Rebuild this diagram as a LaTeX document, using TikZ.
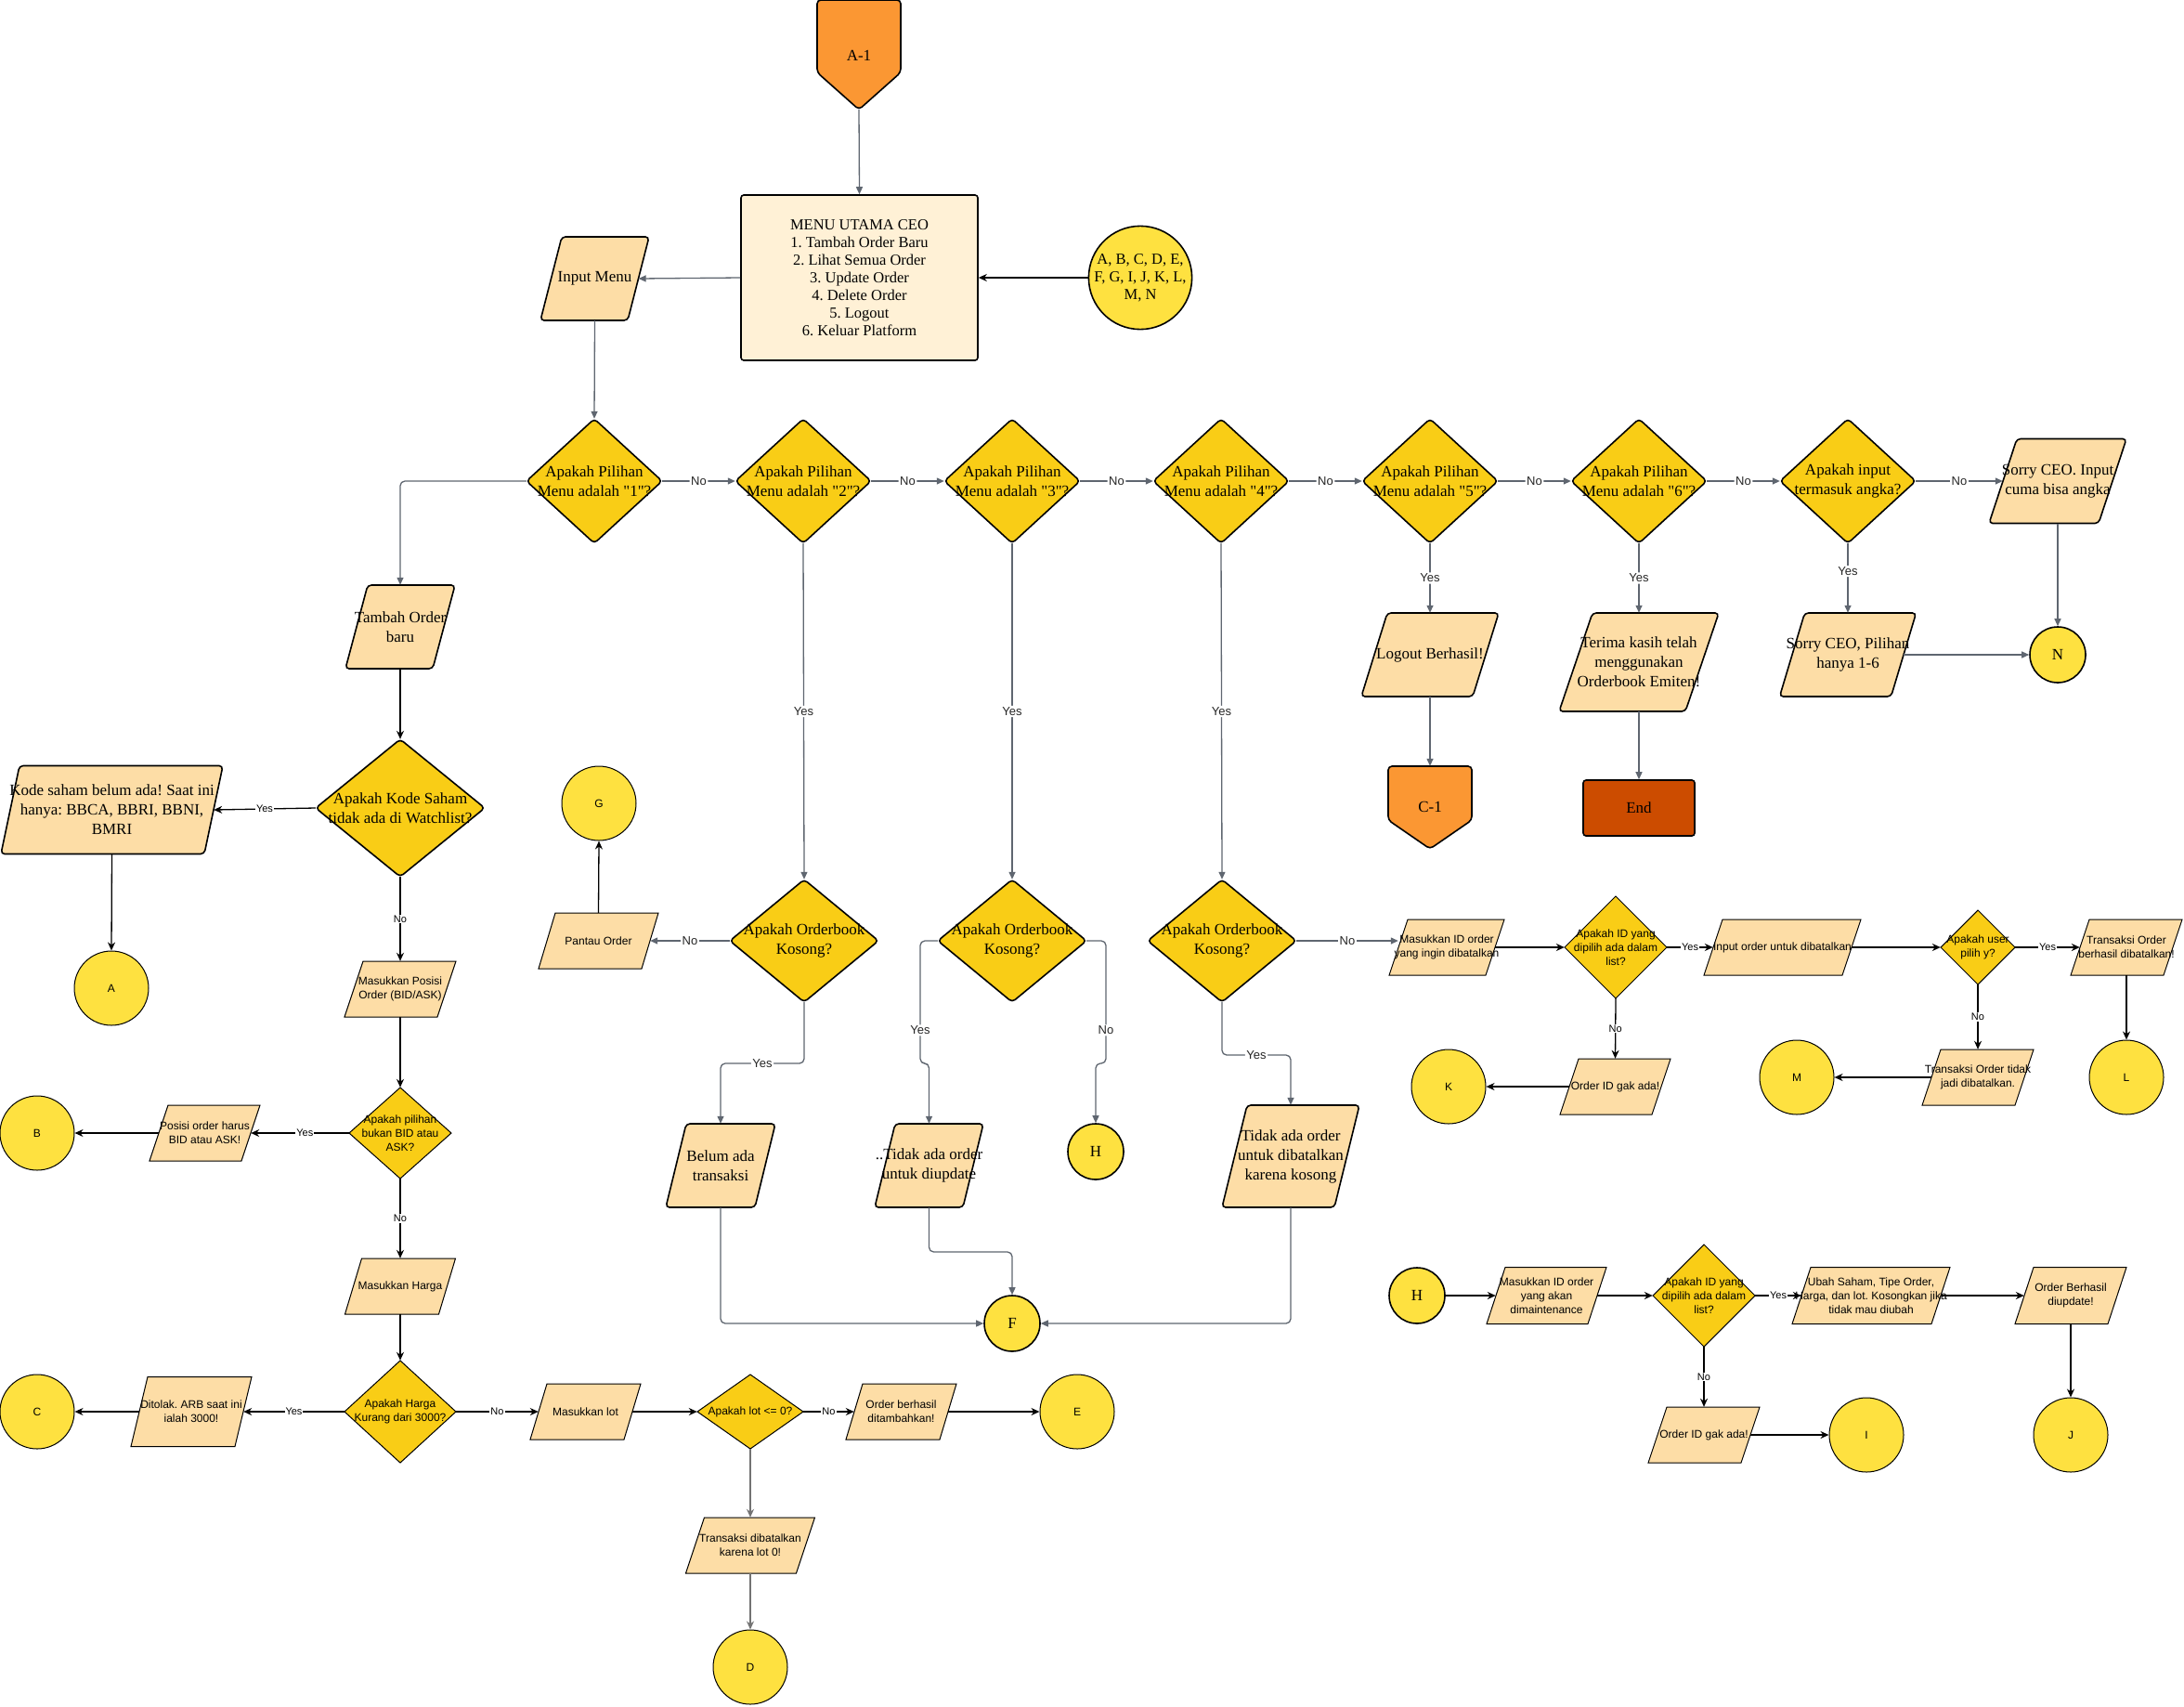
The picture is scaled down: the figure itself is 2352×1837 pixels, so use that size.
\documentclass[tikz,border=0pt]{standalone}
\usepackage{fontspec}
\setmainfont{Liberation Serif}
\setsansfont{Liberation Sans}
\usetikzlibrary{arrows.meta}
\frenchspacing
\definecolor{dyel}{HTML}{F9CD16}
\definecolor{peach}{HTML}{FDDDA6}
\definecolor{cyel}{HTML}{FEE140}
\definecolor{cream}{HTML}{FFF1D6}
\definecolor{orng}{HTML}{FB9733}
\definecolor{endc}{HTML}{CC4C00}
\definecolor{gline}{HTML}{5F6670}
\newcommand\q{\textquotedbl}
% parallelogram: name, cx, cy, W, H, slant, shape style, text style, text
\newcommand\pgm[9]{%
  \path[#7] ({#2-#4/2+#6},{#3-#5/2}) -- ({#2+#4/2},{#3-#5/2}) -- ({#2+#4/2-#6},{#3+#5/2}) -- ({#2-#4/2},{#3+#5/2}) -- cycle;
  \node[inner sep=0, minimum width={#4-#6}, minimum height={#5}] (#1) at (#2,#3) {};
  \node[txt, #8] (#1t) at (#2,#3) {#9};}
% diamond: name, cx, cy, half width, half height, shape style, text style, text
\newcommand\dmd[8]{%
  \path[#6] ({#2-#4},#3) -- (#2,{#3-#5}) -- ({#2+#4},#3) -- (#2,{#3+#5}) -- cycle;
  \node[inner sep=0, minimum width={2*#4}, minimum height={2*#5}] (#1) at (#2,#3) {};
  \node[txt, #7] (#1t) at (#2,#3) {#8};}
\tikzset{
  txt/.style={inner sep=0, align=center},
  ptop/.style={fill=peach, draw=black, line width=1.6pt, rounded corners=4pt},
  pbot/.style={fill=peach, draw=black, line width=1pt},
  dtop/.style={fill=dyel, draw=black, line width=1.6pt, rounded corners=4pt},
  dbot/.style={fill=dyel, draw=black, line width=1pt},
  fser/.style={font=\rmfamily\fontsize{17}{21}\selectfont},
  fsan/.style={font=\sffamily\fontsize{12}{15}\selectfont},
  ctop/.style={circle, fill=cyel, draw=black, line width=1.6pt, minimum size=60pt, inner sep=0, fser},
  cbot/.style={circle, fill=cyel, draw=black, line width=1pt, minimum size=80pt, inner sep=0, fsan},
  garr/.style={draw=gline, line width=1.3pt, rounded corners=5pt, -{Triangle[length=8pt,width=7pt]}},
  barr/.style={draw=black, line width=1.3pt, -{Stealth[length=9pt,width=8pt]}},
  glab/.style={fill=white, inner sep=1.5pt, font=\sffamily\fontsize{13}{15}\selectfont, text=black!85},
  blab/.style={fill=white, inner sep=1pt, font=\sffamily\fontsize{11}{13}\selectfont},
}
\begin{document}
\begin{tikzpicture}[x=1pt,y=-1pt]
\useasboundingbox (0,0) rectangle (2352,1837);
\fill[white] (0,0) rectangle (2352,1837);

% ---------- top part ----------
\path[fill=orng, draw=black, line width=1.6pt, rounded corners=4pt] (880,0) -- (970,0) -- (970,78) -- (925,118) -- (880,78) -- cycle;
\node[inner sep=0, minimum width=90pt, minimum height=118pt] (A1) at (925,59) {};
\node[fser] (A1t) at (925,60) {A-1};

\node[draw=black, fill=cream, rounded corners=3pt, line width=1.6pt, minimum width=255pt, minimum height=178pt, align=center, inner sep=0,
      font=\rmfamily\fontsize{16.5}{19}\selectfont] (Menu) at (925.5,299)
  {MENU UTAMA CEO\\1. Tambah Order Baru\\2. Lihat Semua Order\\3. Update Order\\4. Delete Order\\5. Logout\\6. Keluar Platform};

\node[ctop, minimum size=108pt, font=\rmfamily\fontsize{16.5}{19}\selectfont, align=center] (ABC) at (1228,299) {A, B, C, D, E,\\F, G, I, J, K, L,\\M, N};

\pgm{InputMenu}{640.5}{300}{117}{90}{23}{ptop}{fser}{Input Menu}

\dmd{D1}{640}{518}{73}{67}{dtop}{fser}{Apakah Pilihan\\Menu adalah \q1\q?}
\dmd{D2}{865}{518}{73}{67}{dtop}{fser}{Apakah Pilihan\\Menu adalah \q2\q?}
\dmd{D3}{1090}{518}{73}{67}{dtop}{fser}{Apakah Pilihan\\Menu adalah \q3\q?}
\dmd{D4}{1315}{518}{73}{67}{dtop}{fser}{Apakah Pilihan\\Menu adalah \q4\q?}
\dmd{D5}{1540}{518}{73}{67}{dtop}{fser}{Apakah Pilihan\\Menu adalah \q5\q?}
\dmd{D6}{1765}{518}{73}{67}{dtop}{fser}{Apakah Pilihan\\Menu adalah \q6\q?}
\dmd{D7}{1990}{518}{73}{67}{dtop}{fser}{Apakah input\\termasuk angka?}

\pgm{SorryIn}{2216}{518}{148}{91}{30}{ptop}{fser}{Sorry CEO. Input\\cuma bisa angka}
\pgm{Logout}{1540}{705}{148}{90}{28}{ptop}{fser}{Logout Berhasil!}
\pgm{Terima}{1765}{713}{172}{106}{36}{ptop}{fser}{Terima kasih telah\\menggunakan\\Orderbook Emiten!}
\pgm{SorryPil}{1990}{705}{147}{90}{27}{ptop}{fser}{Sorry CEO, Pilihan\\hanya 1-6}
\node[ctop] (N) at (2216,705) {N};

\path[fill=orng, draw=black, line width=1.6pt, rounded corners=4pt] (1495,825) -- (1585,825) -- (1585,883) -- (1540,914) -- (1495,883) -- cycle;
\node[inner sep=0, minimum width=90pt, minimum height=89pt] (C1) at (1540,869.5) {};
\node[fser] (C1t) at (1540,869) {C-1};

\node[draw=black, fill=endc, rounded corners=3pt, line width=1.6pt, minimum width=120pt, minimum height=60pt, inner sep=0, fser] (End) at (1765,870) {End};

\pgm{Tambah}{431}{675}{118}{90}{24}{ptop}{fser}{Tambah Order\\baru}
\dmd{KodeD}{431}{870}{91}{74}{dtop}{fser}{Apakah Kode Saham\\tidak ada di Watchlist?}
\pgm{KodeSaham}{120.5}{872}{239}{95}{20}{ptop}{fser}{Kode saham belum ada! Saat ini\\hanya: BBCA, BBRI, BBNI,\\BMRI}

\dmd{OB2}{866}{1013}{80}{66}{dtop}{fser}{Apakah Orderbook\\Kosong?}
\dmd{OB3}{1090}{1013}{80}{66}{dtop}{fser}{Apakah Orderbook\\Kosong?}
\dmd{OB4}{1316}{1013}{80}{66}{dtop}{fser}{Apakah Orderbook\\Kosong?}

\pgm{Belum}{776}{1255}{118}{90}{22}{ptop}{fser}{Belum ada\\transaksi}
\pgm{TidakUpd}{1000.5}{1255}{117}{90}{22}{ptop}{fser}{..Tidak ada order\\untuk diupdate}
\pgm{TidakBtl}{1390}{1245}{148}{110}{27}{ptop}{fser}{Tidak ada order\\untuk dibatalkan\\karena kosong}
\node[ctop] (H) at (1180,1240) {H};
\node[ctop] (F) at (1090,1425) {F};

% ---------- lower left ----------
\node[cbot] (A) at (120,1064) {A};
\node[cbot] (G) at (645,865) {G};
\pgm{Pantau}{644.5}{1013}{129}{60}{18}{pbot}{fsan}{Pantau Order}
\pgm{Posisi}{431}{1065}{120}{60}{20}{pbot}{fsan}{Masukkan Posisi\\Order (BID/ASK)}
\dmd{BIDD}{431}{1220}{55}{49}{dbot}{fsan}{Apakah pilihan\\bukan BID atau\\ASK?}
\pgm{PosHarus}{220.5}{1220}{119}{60}{20}{pbot}{fsan}{Posisi order harus\\BID atau ASK!}
\node[cbot] (B) at (40,1220) {B};
\pgm{Harga}{431}{1385}{119}{60}{18}{pbot}{fsan}{Masukkan Harga}
\dmd{HargaD}{431}{1520}{60}{55}{dbot}{fsan}{Apakah Harga\\Kurang dari 3000?}
\pgm{Ditolak}{206}{1520}{130}{75}{18}{pbot}{fsan}{Ditolak. ARB saat ini\\ialah 3000!}
\node[cbot] (C) at (40,1520) {C};
\pgm{Lot}{630.5}{1520}{119}{60}{18}{pbot}{fsan}{Masukkan lot}
\dmd{LotD}{808}{1520}{57}{40}{dbot}{fsan}{Apakah lot <= 0?}
\pgm{OrderOk}{970.5}{1520}{119}{60}{18}{pbot}{fsan}{Order berhasil\\ditambahkan!}
\node[cbot] (E) at (1160,1520) {E};
\pgm{Lot0}{808}{1664}{139}{60}{20}{pbot}{fsan}{Transaksi dibatalkan\\karena lot 0!}
\node[cbot] (D) at (808,1795) {D};

% ---------- lower right ----------
\pgm{IDBatal}{1558}{1020}{124}{60}{20}{pbot}{fsan}{Masukkan ID order\\yang ingin dibatalkan}
\dmd{IDD1}{1740}{1020}{55}{55}{dbot}{fsan}{Apakah ID yang\\dipilih ada dalam\\list?}
\pgm{InBatal}{1919.5}{1020}{169}{60}{20}{pbot}{fsan}{Input order untuk dibatalkan}
\dmd{UserD}{2130}{1020}{40}{40}{dbot}{fsan}{Apakah user\\pilih y?}
\pgm{TrOk}{2290}{1020}{120}{60}{20}{pbot}{fsan}{Transaksi Order\\berhasil dibatalkan!}
\node[cbot] (L) at (2290,1160) {L};
\pgm{TrNo}{2130}{1160}{120}{60}{20}{pbot}{fsan}{Transaksi Order tidak\\jadi dibatalkan.}
\node[cbot] (M) at (1935,1160) {M};
\pgm{NoIDa}{1739.5}{1170}{119}{60}{20}{pbot}{fsan}{Order ID gak ada!}
\node[cbot] (K) at (1560,1170) {K};

\node[ctop] (H2) at (1526,1395) {H};
\pgm{IDMaint}{1665.5}{1395}{129}{61}{20}{pbot}{fsan}{Masukkan ID order\\yang akan\\dimaintenance}
\dmd{IDD2}{1835}{1395}{55}{55}{dbot}{fsan}{Apakah ID yang\\dipilih ada dalam\\list?}
\pgm{Ubah}{2015}{1395}{170}{61}{20}{pbot}{fsan}{Ubah Saham, Tipe Order,\\Harga, dan lot. Kosongkan jika\\tidak mau diubah}
\pgm{UpdOk}{2230}{1395}{120}{61}{20}{pbot}{fsan}{Order Berhasil\\diupdate!}
\node[cbot] (J) at (2230,1545) {J};
\pgm{NoIDb}{1835}{1545}{120}{60}{20}{pbot}{fsan}{Order ID gak ada!}
\node[cbot] (I) at (2010,1545) {I};

% ---------- connectors: top (grey) ----------
\draw[garr] (A1.south) -- (Menu.north);
\draw[garr] (Menu.west) -- (InputMenu.east);
\draw[barr] (ABC.west) -- (Menu.east);
\draw[garr] (InputMenu.south) -- (D1.north);
\draw[garr] (D1.west) -| (Tambah.north);
\draw[garr] (D1.east) -- node[glab]{No} (D2.west);
\draw[garr] (D2.east) -- node[glab]{No} (D3.west);
\draw[garr] (D3.east) -- node[glab]{No} (D4.west);
\draw[garr] (D4.east) -- node[glab]{No} (D5.west);
\draw[garr] (D5.east) -- node[glab]{No} (D6.west);
\draw[garr] (D6.east) -- node[glab]{No} (D7.west);
\draw[garr] (D7.east) -- node[glab]{No} (SorryIn.west);
\draw[garr] (D2.south) -- node[glab]{Yes} (OB2.north);
\draw[garr] (D3.south) -- node[glab]{Yes} (OB3.north);
\draw[garr] (D4.south) -- node[glab]{Yes} (OB4.north);
\draw[garr] (D5.south) -- node[glab]{Yes} (Logout.north);
\draw[garr] (D6.south) -- node[glab]{Yes} (Terima.north);
\draw[garr] (D7.south) -- node[glab, pos=0.4]{Yes} (SorryPil.north);
\draw[garr] (SorryIn.south) -- (N.north);
\draw[garr] (SorryPil.east) -- (N.west);
\draw[garr] (Logout.south) -- (C1.north);
\draw[garr] (Terima.south) -- (End.north);

\draw[garr] (OB2.west) -- node[glab]{No} (Pantau.east);
\draw[garr] (OB2.south) -- (866,1145) -- node[glab]{Yes} (776,1145) -- (Belum.north);
\draw[garr] (OB3.west) -- (991,1013) -- node[glab, pos=0.73]{Yes} (991,1145) -- (1000.5,1145) -- (TidakUpd.north);
\draw[garr] (OB3.east) -- (1191,1013) -- node[glab, pos=0.73]{No} (1191,1145) -- (1180,1145) -- (H.north);
\draw[garr] (OB4.south) -- (1316,1136) -- node[glab]{Yes} (1390,1136) -- (TidakBtl.north);
\draw[garr] (OB4.east) -- node[glab]{No} (IDBatal.west |- OB4.east);
\draw[garr] (Belum.south) |- (F.west);
\draw[garr] (TidakUpd.south) -- (1000.5,1348) -| (F.north);
\draw[garr] (TidakBtl.south) |- (F.east);

% ---------- connectors: lower (black) ----------
\draw[barr] (Tambah.south) -- (KodeD.north);
\draw[barr] (KodeD.west) -- node[blab]{Yes} (KodeSaham.east);
\draw[barr] (KodeSaham.south) -- (A.north);
\draw[barr] (KodeD.south) -- node[blab]{No} (Posisi.north);
\draw[barr] (Posisi.south) -- (BIDD.north);
\draw[barr] (BIDD.west) -- node[blab, pos=0.45]{Yes} (PosHarus.east);
\draw[barr] (PosHarus.west) -- (B.east);
\draw[barr] (BIDD.south) -- node[blab]{No} (Harga.north);
\draw[barr] (Harga.south) -- (HargaD.north);
\draw[barr] (HargaD.west) -- node[blab]{Yes} (Ditolak.east);
\draw[barr] (Ditolak.west) -- (C.east);
\draw[barr] (HargaD.east) -- node[blab]{No} (Lot.west);
\draw[barr] (Lot.east) -- (LotD.west);
\draw[barr] (LotD.east) -- node[blab]{No} (OrderOk.west);
\draw[barr] (OrderOk.east) -- (E.west);
\draw[barr, draw=black!55] (LotD.south) -- (Lot0.north);
\draw[barr, draw=black!55] (Lot0.south) -- (D.north);
\draw[barr] (Pantau.north) -- (G.south);

\draw[barr] (IDBatal.east) -- (IDD1.west);
\draw[barr] (IDD1.east) -- node[blab]{Yes} (InBatal.west);
\draw[barr] (InBatal.east) -- (UserD.west);
\draw[barr] (UserD.east) -- node[blab]{Yes} (TrOk.west);
\draw[barr] (TrOk.south) -- (L.north);
\draw[barr] (UserD.south) -- node[blab]{No} (TrNo.north);
\draw[barr] (TrNo.west) -- (M.east);
\draw[barr] (IDD1.south) -- node[blab]{No} (NoIDa.north);
\draw[barr] (NoIDa.west) -- (K.east);

\draw[barr] (H2.east) -- (IDMaint.west);
\draw[barr] (IDMaint.east) -- (IDD2.west);
\draw[barr] (IDD2.east) -- node[blab]{Yes} (Ubah.west);
\draw[barr] (Ubah.east) -- (UpdOk.west);
\draw[barr] (UpdOk.south) -- (J.north);
\draw[barr] (IDD2.south) -- node[blab]{No} (NoIDb.north);
\draw[barr] (NoIDb.east) -- (I.west);
\end{tikzpicture}
\end{document}
